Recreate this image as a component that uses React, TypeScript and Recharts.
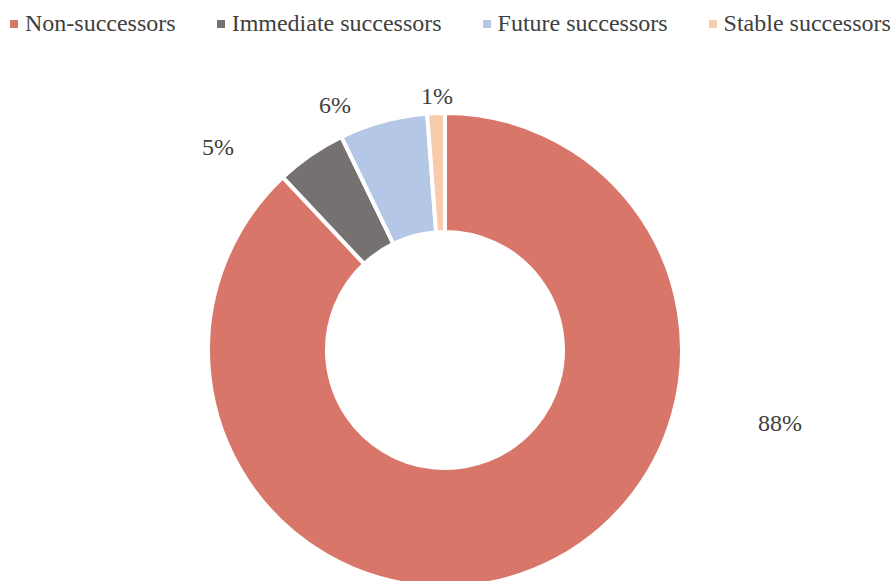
import React from 'react';
import { PieChart, Pie, Cell } from 'recharts';

const categories = ['Non-successors', 'Immediate successors', 'Future successors', 'Stable successors'];
const shares = [88.0, 4.8, 6.0, 1.2];
const pctLabels = ['88%', '5%', '6%', '1%'];
const colors = ['#D9766A', '#767171', '#B4C7E7', '#F8CBAD'];

const data = categories.map((name, i) => ({ name, value: shares[i], label: pctLabels[i] }));

// label placement offsets (relative to the pie centre), mimicking the original layout
const labelOffsets = [
  { dx: 335, dy: 73 },
  { dx: -227, dy: -203 },
  { dx: -110, dy: -245 },
  { dx: -8, dy: -254 },
];

const FONT = '"Liberation Serif", "Times New Roman", Times, serif';
const TEXT = '#404040';

const renderLabel = (props: any) => {
  const { cx, cy, index } = props;
  const off = labelOffsets[index];
  return (
    <text
      x={cx + off.dx}
      y={cy + off.dy}
      textAnchor="middle"
      dominantBaseline="central"
      fill={TEXT}
      style={{ fontFamily: FONT, fontSize: 24 }}
    >
      {data[index].label}
    </text>
  );
};

export default function App() {
  return (
    <div style={{ position: 'fixed', top: 0, left: 0, width: 893, height: 581, overflow: 'hidden', background: '#FFFFFF' }}>
      <PieChart width={893} height={581} margin={{ top: 0, right: 0, bottom: 0, left: 0 }}>
        <Pie
          data={data}
          dataKey="value"
          nameKey="name"
          cx={445}
          cy={350}
          innerRadius={118}
          outerRadius={237}
          startAngle={90}
          endAngle={-270}
          stroke="#FFFFFF"
          strokeWidth={4}
          label={renderLabel}
          labelLine={false}
          isAnimationActive={false}
        >
          {data.map((d, i) => (
            <Cell key={d.name} fill={colors[i]} />
          ))}
        </Pie>
      </PieChart>
      <div
        style={{
          position: 'absolute',
          top: 10,
          left: 10,
          width: 'max-content',
          display: 'flex',
          alignItems: 'center',
          fontFamily: FONT,
          fontSize: 24,
          color: TEXT,
        }}
      >
        {categories.map((c, i) => (
          <div
            key={c}
            style={{ display: 'flex', alignItems: 'center', flexShrink: 0, marginRight: i < categories.length - 1 ? 41 : 0 }}
          >
            <span style={{ display: 'inline-block', width: 8, height: 8, background: colors[i], marginRight: 7, flexShrink: 0 }} />
            <span style={{ whiteSpace: 'nowrap' }}>{c}</span>
          </div>
        ))}
      </div>
    </div>
  );
}
